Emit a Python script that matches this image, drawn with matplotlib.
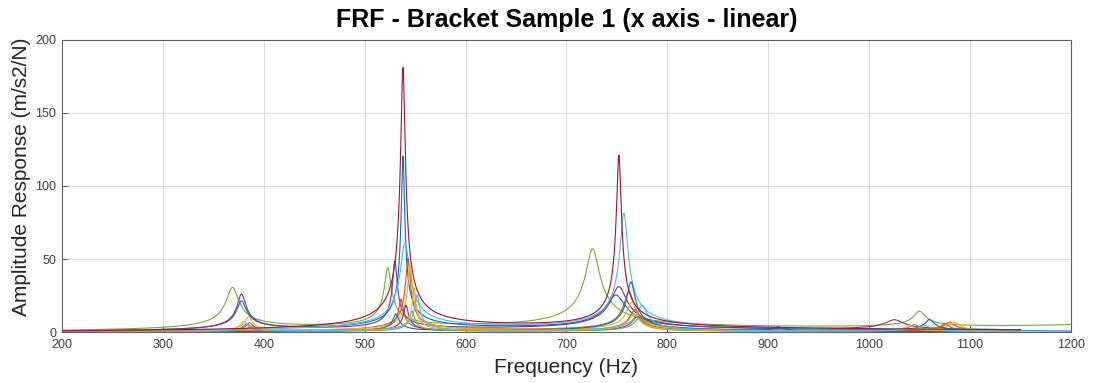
import numpy as np
import matplotlib
matplotlib.use("Agg")
import matplotlib.pyplot as plt

# ---------------------------------------------------------------------------
# Data read from the reference: one entry per measured FRF curve.
# Each curve is described by its resonances (frequency Hz, peak m/s2/N, damping)
# ---------------------------------------------------------------------------
curve_colors = ["#77AC30", "#0072BD", "#7E2F8E", "#4DBEEE", "#D95319",
                "#EDB120", "#0072BD", "#D95319", "#7E2F8E", "#77AC30",
                "#EDB120", "#4DBEEE", "#A2142F"]

curve_end_hz = [1200, 1150, 1150, 1150, 1150, 1150, 1200, 1150, 1150, 1150,
                1150, 1150, 1150]

mode_freq = [
    [369, 523, 726, 1050, 1290],          # green, broad
    [378, 538, 749],                      # blue
    [378, 530, 752, 1025],                # purple
    [540, 757],                           # light blue
    [543, 762, 1080],                     # orange
    [385, 545, 765, 1085],                # yellow
    [531, 764, 1060],                     # blue 2
    [386, 536, 768, 1075],                # orange 2
    [383, 541, 770, 910],                 # purple 2
    [388, 547, 772, 1045],                # green 2
    [380, 549, 767, 1040],                # yellow 2
    [384, 552, 775, 1055],                # light blue 2
    [538, 752],                           # red
]
mode_peak = [
    [29, 41, 55, 11, 5],
    [20, 119, 24],
    [25, 47, 30, 7],
    [60, 80],
    [50, 27, 6],
    [10, 45, 20, 6],
    [12, 34, 8],
    [6, 22, 15, 5],
    [5, 18, 10, 3],
    [4, 14, 9, 5],
    [7, 30, 12, 4],
    [5, 25, 18, 4],
    [180, 119],
]
mode_damp = [
    [0.016, 0.006, 0.009, 0.005, 0.06],
    [0.012, 0.003, 0.012],
    [0.011, 0.004, 0.010, 0.008],
    [0.008, 0.005],
    [0.004, 0.006, 0.004],
    [0.008, 0.004, 0.006, 0.004],
    [0.005, 0.005, 0.004],
    [0.008, 0.004, 0.006, 0.004],
    [0.008, 0.004, 0.006, 0.005],
    [0.008, 0.004, 0.006, 0.004],
    [0.008, 0.003, 0.006, 0.004],
    [0.008, 0.004, 0.006, 0.004],
    [0.004, 0.003],
]

x_ticks = [200, 300, 400, 500, 600, 700, 800, 900, 1000, 1100, 1200]
y_ticks = [0, 50, 100, 150, 200]


def frf_curve(freq, fn, peaks, damps):
    mag = np.zeros_like(freq)
    for f0, pk, z in zip(fn, peaks, damps):
        r = freq / f0
        mag += pk * 2 * z * r / np.sqrt((1 - r ** 2) ** 2 + (2 * z * r) ** 2)
    return mag


plt.rcParams["font.family"] = ["Liberation Sans", "DejaVu Sans"]

fig = plt.figure(figsize=(10.93, 3.83), dpi=100)
ax = fig.add_axes([0.0567, 0.133, 0.923, 0.763])

for i in range(len(mode_freq)):
    freq = np.arange(200, curve_end_hz[i] + 0.01, 0.25)
    mag = frf_curve(freq, mode_freq[i], mode_peak[i], mode_damp[i])
    ax.plot(freq, mag, color=curve_colors[i], linewidth=0.8)

ax.set_xlim(200, 1200)
ax.set_ylim(0, 200)
ax.set_xticks(x_ticks)
ax.set_yticks(y_ticks)
ax.tick_params(direction="in", labelsize=9, colors="#404040", length=4,
               width=0.6)
ax.tick_params(axis="x", pad=5)
ax.tick_params(axis="y", pad=4)
ax.grid(True, color="#dcdcdc", linewidth=0.7)
ax.set_axisbelow(True)
for s in ax.spines.values():
    s.set_color("#606060")
    s.set_linewidth(0.8)

ax.set_title("FRF - Bracket Sample 1 (x axis - linear)", fontsize=18,
             fontweight="bold", pad=9)
ax.set_xlabel("Frequency (Hz)", fontsize=15, color="#262626", labelpad=5)
ax.set_ylabel("Amplitude Response (m/s2/N)", fontsize=15, color="#262626")
ax.yaxis.set_label_coords(-0.031, 0.53)

fig.savefig("out.png", dpi=100, facecolor="white")
